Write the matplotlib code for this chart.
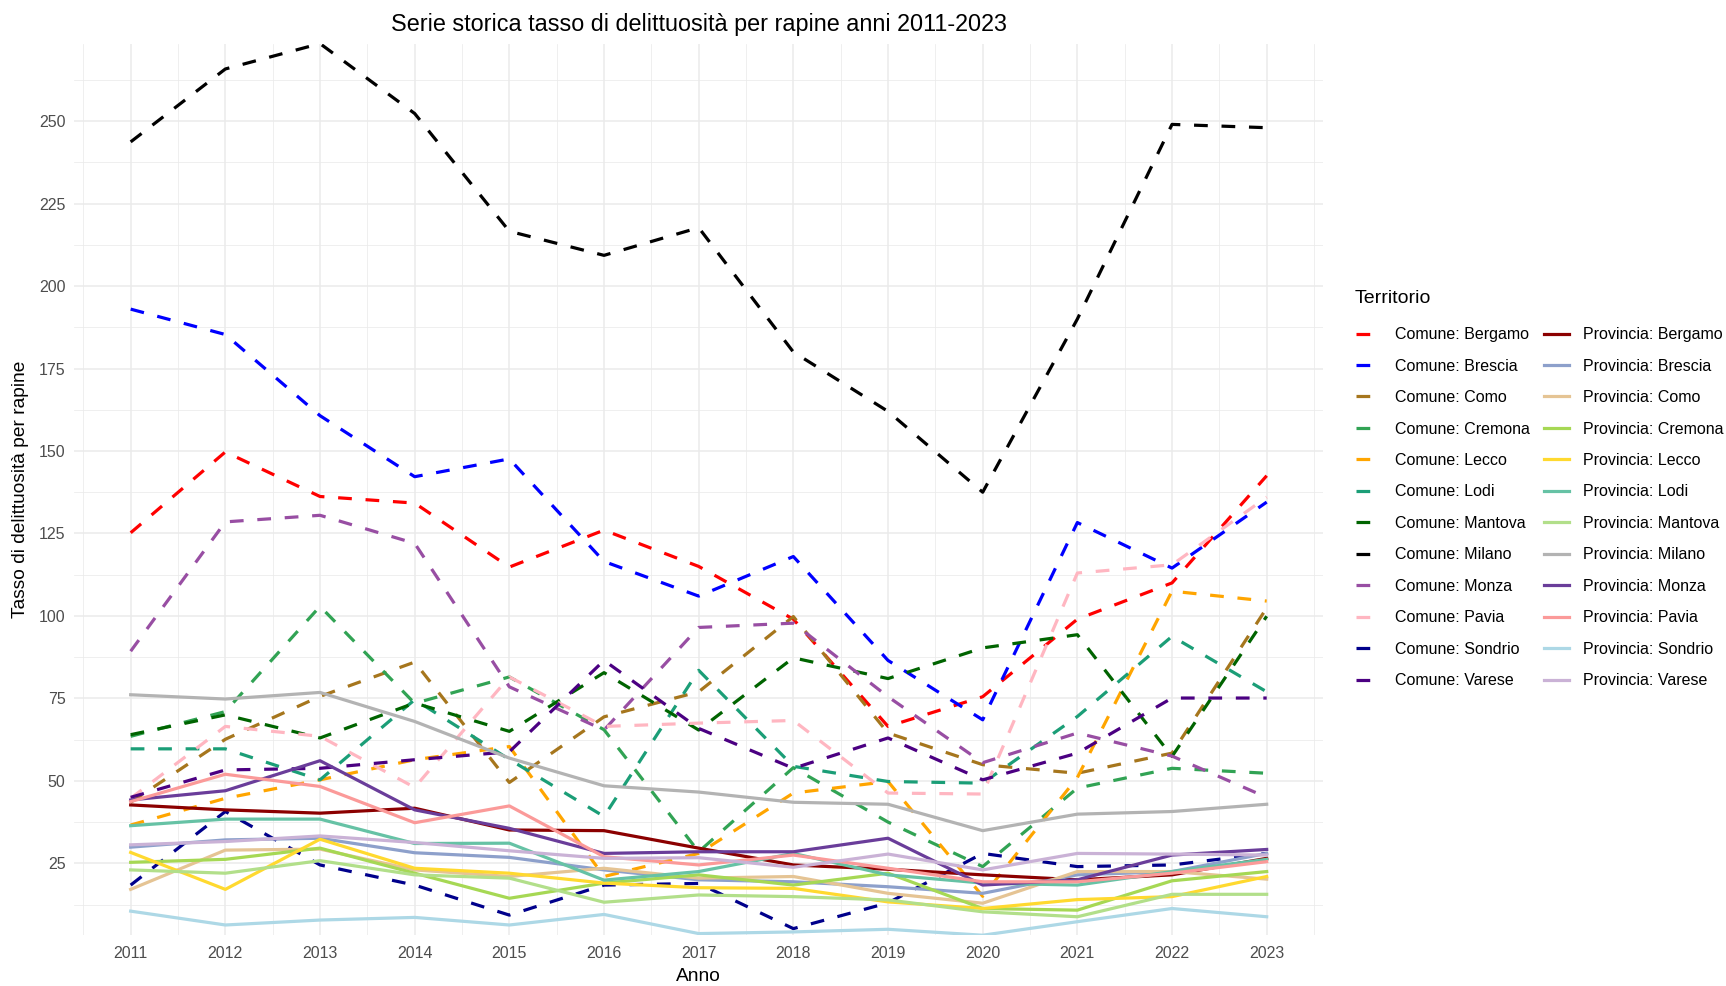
import matplotlib
matplotlib.use('Agg')
import matplotlib.pyplot as plt
import numpy as np

plt.rcParams['font.family'] = ['Liberation Sans', 'DejaVu Sans']

anni = list(range(2011, 2024))
nomi = ['Bergamo', 'Brescia', 'Como', 'Cremona', 'Lecco', 'Lodi',
        'Mantova', 'Milano', 'Monza', 'Pavia', 'Sondrio', 'Varese']

# Comune (capoluogo)
com_bergamo = [125.2, 149.7, 136.2, 134.2, 114.8, 126.0, 115.0, 99.0, 66.5, 75.5, 99.0, 110.0, 142.5]
com_brescia = [193.0, 185.3, 160.7, 142.2, 147.6, 116.5, 106.0, 118.0, 86.5, 68.5, 128.3, 114.5, 134.5]
com_como = [43.5, 62.6, 75.6, 86.0, 49.5, 69.4, 77.0, 99.8, 64.5, 54.9, 52.3, 58.4, 102.4]
com_cremona = [63.5, 71.0, 102.9, 73.5, 81.5, 65.5, 28.5, 54.0, 37.5, 24.0, 47.8, 53.8, 52.3]
com_lecco = [36.6, 44.7, 50.3, 56.4, 60.4, 21.0, 28.0, 46.3, 49.8, 15.0, 51.0, 107.5, 104.5]
com_lodi = [59.7, 59.7, 50.3, 74.6, 56.5, 39.2, 83.5, 54.4, 49.8, 49.3, 69.5, 93.8, 77.0]
com_mantova = [64.0, 70.0, 63.0, 73.6, 65.0, 82.8, 65.4, 87.3, 81.0, 90.3, 94.3, 57.4, 99.9]
com_milano = [243.7, 265.8, 273.5, 252.3, 216.6, 209.3, 217.7, 180.0, 162.0, 137.5, 190.0, 249.0, 248.0]
com_monza = [89.3, 128.5, 130.5, 122.0, 78.5, 65.4, 96.5, 97.8, 75.5, 55.5, 64.5, 57.5, 45.0]
com_pavia = [44.7, 66.5, 63.5, 48.0, 81.5, 66.5, 67.5, 68.3, 46.3, 46.0, 113.0, 115.5, 136.0]
com_sondrio = [18.4, 40.7, 24.5, 18.4, 9.3, 18.4, 18.9, 5.2, 13.0, 28.0, 24.0, 24.5, 28.0]
com_varese = [45.0, 53.3, 53.8, 56.4, 58.8, 86.5, 65.9, 53.8, 63.0, 50.3, 58.4, 75.1, 75.1]

# Provincia
prov_bergamo = [42.7, 41.2, 40.2, 41.7, 35.1, 34.9, 29.6, 24.5, 23.2, 21.5, 20.0, 21.5, 26.5]
prov_brescia = [29.9, 32.1, 32.6, 28.2, 26.8, 23.0, 20.0, 19.4, 17.9, 15.9, 21.5, 22.5, 28.0]
prov_como = [17.1, 29.0, 29.3, 23.0, 21.0, 23.5, 20.5, 21.0, 15.9, 12.9, 22.5, 22.5, 20.2]
prov_cremona = [25.3, 26.2, 29.6, 22.0, 14.4, 19.0, 21.5, 18.4, 22.0, 11.3, 10.8, 19.7, 22.5]
prov_lecco = [28.3, 17.1, 32.3, 23.5, 22.0, 19.0, 17.6, 17.4, 13.3, 11.3, 14.0, 14.9, 21.0]
prov_lodi = [36.4, 38.4, 38.4, 31.0, 31.1, 19.9, 22.5, 28.0, 21.5, 19.0, 18.4, 22.5, 26.2]
prov_mantova = [23.0, 22.0, 25.8, 21.5, 20.5, 13.2, 15.4, 14.9, 13.9, 10.3, 8.8, 15.6, 15.6]
prov_milano = [76.1, 74.8, 76.8, 68.0, 56.9, 48.5, 46.6, 43.5, 42.9, 34.9, 39.9, 40.7, 42.9]
prov_monza = [44.2, 47.0, 56.1, 41.2, 35.6, 28.0, 28.5, 28.5, 32.6, 18.4, 20.0, 27.5, 29.2]
prov_pavia = [43.7, 52.0, 48.3, 37.3, 42.4, 27.0, 24.5, 27.5, 23.5, 19.4, 19.4, 22.0, 25.5]
prov_sondrio = [10.5, 6.3, 7.8, 8.6, 6.3, 9.5, 3.7, 4.2, 5.0, 3.2, 7.3, 11.3, 8.8]
prov_varese = [30.6, 31.6, 33.3, 31.3, 28.8, 26.5, 26.7, 23.8, 27.8, 23.0, 28.0, 27.8, 27.5]

comuni = [com_bergamo, com_brescia, com_como, com_cremona, com_lecco, com_lodi,
          com_mantova, com_milano, com_monza, com_pavia, com_sondrio, com_varese]
province = [prov_bergamo, prov_brescia, prov_como, prov_cremona, prov_lecco, prov_lodi,
            prov_mantova, prov_milano, prov_monza, prov_pavia, prov_sondrio, prov_varese]

col_comune = ['#FF0000', '#0000FF', '#A6761D', '#31A354', '#FFA500', '#1B9E77',
              '#006400', '#000000', '#984EA3', '#FFB6C1', '#00008B', '#4B0082']
col_prov = ['#8B0000', '#8DA0CB', '#E5C494', '#A6D854', '#FFD92F', '#66C2A5',
            '#B2DF8A', '#B3B3B3', '#6A3D9A', '#FB9A99', '#ADD8E6', '#CAB2D6']

fig = plt.figure(figsize=(17.26, 9.86), dpi=100)
ax = fig.add_axes([0.0428, 0.0515, 0.724, 0.9043])

for nome, vals, c in zip(nomi, comuni, col_comune):
    ax.plot(anni, vals, color=c, lw=2.3, dashes=(4.3, 4.3), label='Comune: ' + nome)
for nome, vals, c in zip(nomi, province, col_prov):
    ax.plot(anni, vals, color=c, lw=2.3, label='Provincia: ' + nome)

tutti = np.array(comuni + province)
ax.set_xlim(2010.4, 2023.6)
ax.set_ylim(tutti.min(), tutti.max())
ax.set_xticks(anni)
ax.set_xticks(np.arange(2010.5, 2024, 1), minor=True)
ax.set_yticks(np.arange(25, 275, 25))
ax.set_yticks(np.arange(12.5, 275, 25), minor=True)
ax.grid(which='major', color='#EBEBEB', lw=1.1)
ax.grid(which='minor', color='#EBEBEB', lw=0.55)
ax.set_axisbelow(True)
for s in ax.spines.values():
    s.set_visible(False)
ax.tick_params(which='both', length=0, labelsize=11.5, labelcolor='#4D4D4D')
ax.tick_params(axis='x', pad=8)
ax.tick_params(axis='y', pad=6)

x_mid = 0.0428 + 0.724 / 2
fig.text(x_mid, 0.9755, 'Serie storica tasso di delittuosità per rapine anni 2011-2023',
         ha='center', va='center', fontsize=16.8)
fig.text(x_mid, 0.0095, 'Anno', ha='center', va='center', fontsize=13.75)
fig.text(0.0116, 0.5037, 'Tasso di delittuosità per rapine', rotation=90,
         ha='center', va='center', fontsize=13.75)

# legenda: titolo a parte, voci su due colonne
fig.text(0.7850, 0.6968, 'Territorio', ha='left', va='center', fontsize=14)
h, l = ax.get_legend_handles_labels()
fig.legend(h, l, ncol=2, loc='upper left', bbox_to_anchor=(0.7856, 0.6682),
           frameon=False, fontsize=11.5, handlelength=1.56, handletextpad=0.875,
           labelspacing=1.03, columnspacing=0.875, borderpad=0, borderaxespad=0)

fig.savefig('out.png', dpi=100)
